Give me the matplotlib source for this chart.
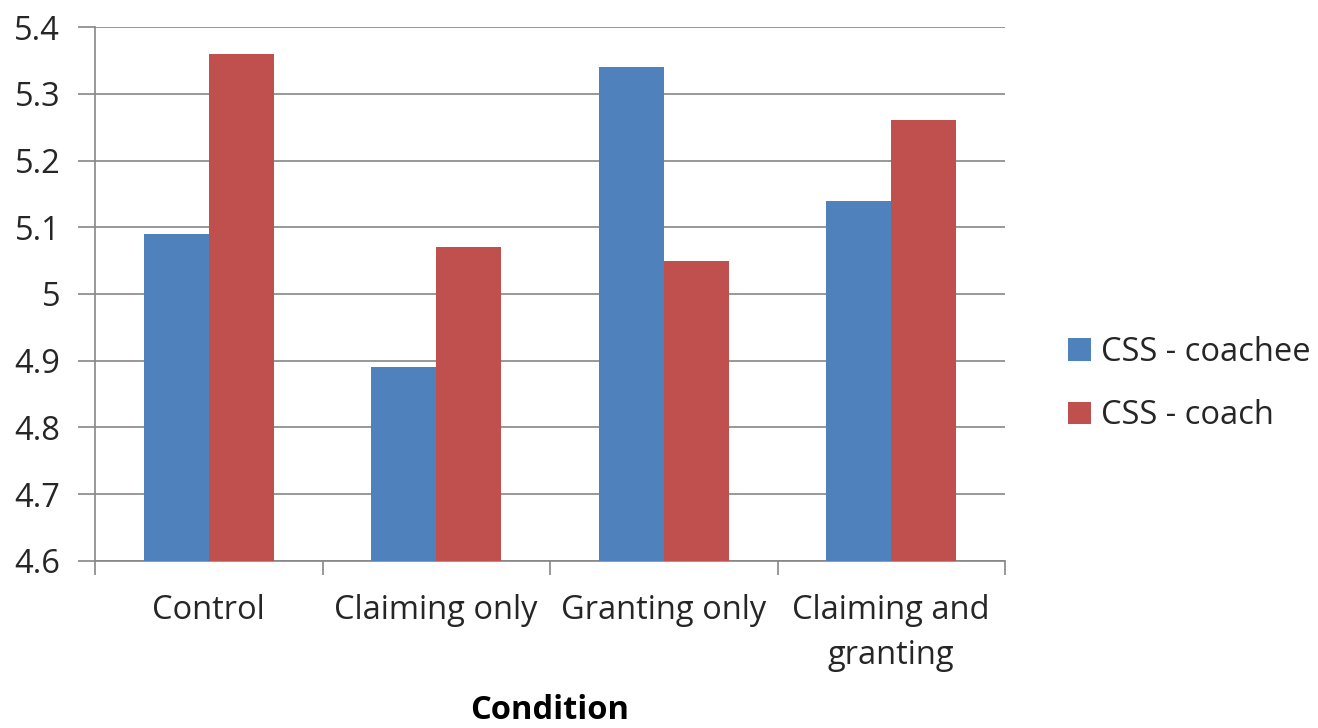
import matplotlib
matplotlib.use("Agg")
import matplotlib.pyplot as plt
import numpy as np

categories = ["Control", "Claiming only", "Granting only", "Claiming and\ngranting"]
coachee = [5.09, 4.89, 5.34, 5.14]
coach = [5.36, 5.07, 5.05, 5.26]
series_names = ["CSS - coachee", "CSS - coach"]
yticks = [4.6, 4.7, 4.8, 4.9, 5.0, 5.1, 5.2, 5.3, 5.4]
ytick_labels = ["4.6", "4.7", "4.8", "4.9", "5", "5.1", "5.2", "5.3", "5.4"]

plt.rcParams["font.family"] = ["Open Sans", "DejaVu Sans"]
BLUE = "#4f81bd"
RED = "#c0504d"
GREY = "#868686"
TEXT = "#262626"
FS = 23.5

fig = plt.figure(figsize=(13.18, 7.28), dpi=100)
ax = fig.add_axes([95 / 1318, 1 - 561 / 728, 910 / 1318, 534 / 728])

x = np.arange(len(categories))
w = 0.285
ax.bar(x - w / 2, coachee, w, color=BLUE, label=series_names[0], zorder=3)
ax.bar(x + w / 2, coach, w, color=RED, label=series_names[1], zorder=3)

ax.set_xlim(-0.5, len(categories) - 0.5)
ax.set_ylim(4.6, 5.4)
ax.set_yticks(yticks)
ax.set_yticklabels(ytick_labels)
ax.yaxis.grid(True, color=GREY, linewidth=1.2, zorder=0)
ax.set_axisbelow(True)

# category labels centred, tick marks on category boundaries
ax.set_xticks(x)
ax.set_xticklabels(categories, linespacing=1.45)
ax.tick_params(axis="x", which="major", length=0, pad=24, labelsize=FS, labelcolor=TEXT)
ax.set_xticks(np.arange(-0.5, len(categories)), minor=True)
ax.tick_params(axis="x", which="minor", length=10, width=1.2, color=GREY)
ax.tick_params(axis="y", length=12, width=1.2, color=GREY, labelsize=FS, labelcolor=TEXT, pad=13)

for s in ["top", "right"]:
    ax.spines[s].set_visible(False)
for s in ["left", "bottom"]:
    ax.spines[s].set_color(GREY)
    ax.spines[s].set_linewidth(1.2)

ax.set_xlabel("Condition", fontsize=FS, fontweight="bold", color="black", labelpad=16)

leg = ax.legend(loc="center left", bbox_to_anchor=(1.037, 0.331), frameon=False,
                fontsize=FS, handlelength=0.7, handleheight=0.7,
                handletextpad=0.3, labelspacing=0.93, labelcolor=TEXT)

fig.savefig("out.png", dpi=100)
